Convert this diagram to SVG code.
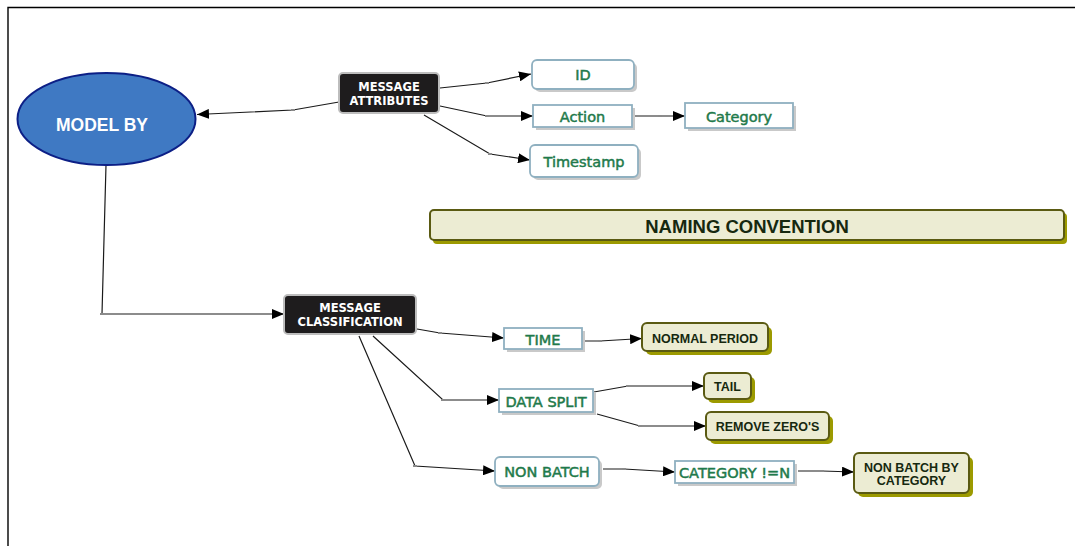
<svg xmlns="http://www.w3.org/2000/svg" width="1075" height="547" viewBox="0 0 1075 547">
  <defs>
    <marker id="arrow" viewBox="0 0 12 10" refX="12" refY="5" markerWidth="12" markerHeight="10" markerUnits="userSpaceOnUse" orient="auto">
      <path d="M0,0 L12,5 L0,10 Z" fill="#000"/>
    </marker>
    <style>
      .frame { fill: none; stroke: #000; stroke-width: 1.4; }
      .edge { fill: none; stroke: #1a1a1a; stroke-width: 1.2; }
      .tick { fill: #8a8a8a; }
      .dark { fill: #1e1c1d; stroke: #bdbdbd; stroke-width: 2; }
      .darkText { fill: #fff; font-family: "DejaVu Sans", Verdana, sans-serif; font-weight: bold; font-size: 11.5px; text-anchor: middle; }
      .leaf { fill: #fff; stroke: #8fb0c0; stroke-width: 1.8; }
      .leafShadow { fill: #c9c9c9; }
      .leafText { fill: #1f7a4b; stroke: #1f7a4b; stroke-width: 0.5; font-family: "DejaVu Sans", Verdana, sans-serif; font-size: 14.5px; text-anchor: middle; }
      .olive { fill: #ececd3; stroke: #5a5a12; stroke-width: 2; }
      .oliveShadow { fill: #9c9a00; }
      .oliveText { fill: #16280f; font-family: "Liberation Sans", Arial, sans-serif; font-weight: bold; font-size: 12.5px; text-anchor: middle; }
      .banner { font-size: 18.5px; }
    </style>
  </defs>

  <rect width="1075" height="547" fill="#fff"/>
  <!-- page frame: top and left edges only -->
  <path class="frame" d="M8,546 L8,7.5 L1075,7.5"/>

  <!-- connectors -->
  <g id="connectors">
    <path class="edge" d="M339,102 L293,110 L197,114.5" marker-end="url(#arrow)"/>
    <path class="edge" d="M440,88 L487,83 L531,74" marker-end="url(#arrow)"/>
    <path class="edge" d="M440,106 L487,116 L533,116" marker-end="url(#arrow)"/>
    <path class="edge" d="M424,115 L490,154 L530,160" marker-end="url(#arrow)"/>
    <path class="edge" d="M635,116 L660,116 L685,116" marker-end="url(#arrow)"/>
    <path class="edge" d="M106,165 L102,314 L284,314" marker-end="url(#arrow)"/>
    <path class="edge" d="M417,329 L440,333 L504,338" marker-end="url(#arrow)"/>
    <path class="edge" d="M373,336 L443,400 L499,400" marker-end="url(#arrow)"/>
    <path class="edge" d="M359,336 L415,466 L495,471" marker-end="url(#arrow)"/>
    <path class="edge" d="M585,341 L600,341 L642,338.5" marker-end="url(#arrow)"/>
    <path class="edge" d="M594,392 L628,386 L704,386" marker-end="url(#arrow)"/>
    <path class="edge" d="M597,414 L640,426 L706,426" marker-end="url(#arrow)"/>
    <path class="edge" d="M603,469 L624,469 L675,472" marker-end="url(#arrow)"/>
    <path class="edge" d="M798,471 L822,471 L854,472" marker-end="url(#arrow)"/>
    <!-- small empty label marks at bend points -->
    <rect class="tick" x="291" y="109" width="4" height="2"/>
    <rect class="tick" x="485" y="82" width="4" height="2"/>
    <rect class="tick" x="485" y="115" width="4" height="2"/>
    <rect class="tick" x="488" y="153" width="4" height="2"/>
    <rect class="tick" x="658" y="115" width="4" height="2"/>
    <rect class="tick" x="100" y="313" width="4" height="2"/>
    <rect class="tick" x="438" y="332" width="4" height="2"/>
    <rect class="tick" x="441" y="399" width="4" height="2"/>
    <rect class="tick" x="413" y="465" width="4" height="2"/>
    <rect class="tick" x="598" y="340" width="4" height="2"/>
    <rect class="tick" x="626" y="385" width="3" height="2"/>
    <rect class="tick" x="638" y="425" width="4" height="2"/>
    <rect class="tick" x="622" y="468" width="4" height="2"/>
    <rect class="tick" x="820" y="470" width="4" height="2"/>
  </g>

  <!-- root -->
  <g id="model-by">
    <ellipse cx="106.5" cy="119" rx="89" ry="46" fill="#3f79c3" stroke="#0c1f86" stroke-width="2"/>
    <text x="102" y="131" fill="#fff" font-family="Liberation Sans, Arial, sans-serif" font-weight="bold" font-size="17.5" text-anchor="middle">MODEL BY</text>
  </g>

  <!-- first-level groups -->
  <g id="message-attributes">
    <rect class="dark" x="339" y="73" width="100" height="40" rx="4"/>
    <text class="darkText" x="389" y="91">MESSAGE</text>
    <text class="darkText" x="389" y="104.5">ATTRIBUTES</text>
  </g>
  <g id="message-classification">
    <rect class="dark" x="284" y="295" width="132" height="39" rx="4"/>
    <text class="darkText" x="350" y="312">MESSAGE</text>
    <text class="darkText" x="350" y="326">CLASSIFICATION</text>
  </g>

  <!-- attribute leaves -->
  <g id="id">
    <rect class="leafShadow" x="535" y="63" width="102" height="29" rx="5"/>
    <rect class="leaf" x="532" y="60" width="102" height="29" rx="5"/>
    <text class="leafText" x="583" y="80">ID</text>
  </g>
  <g id="action">
    <rect class="leafShadow" x="536" y="108" width="99" height="22"/>
    <rect class="leaf" x="533" y="105" width="99" height="22"/>
    <text class="leafText" x="582.5" y="122">Action</text>
  </g>
  <g id="category">
    <rect class="leafShadow" x="688" y="106" width="108" height="25"/>
    <rect class="leaf" x="685" y="103" width="108" height="25"/>
    <text class="leafText" x="739" y="121.5">Category</text>
  </g>
  <g id="timestamp">
    <rect class="leafShadow" x="533" y="148" width="108" height="32" rx="5"/>
    <rect class="leaf" x="530" y="145" width="108" height="32" rx="5"/>
    <text class="leafText" x="584" y="167">Timestamp</text>
  </g>

  <!-- banner -->
  <g id="naming-convention">
    <rect class="oliveShadow" x="433" y="213" width="634" height="31" rx="4"/>
    <rect class="olive" x="430" y="210" width="634" height="30" rx="4"/>
    <text class="oliveText banner" x="747" y="233">NAMING CONVENTION</text>
  </g>

  <!-- classification leaves -->
  <g id="time">
    <rect class="leafShadow" x="507" y="331" width="78" height="21"/>
    <rect class="leaf" x="504" y="328" width="78" height="21"/>
    <text class="leafText" x="543" y="344.5">TIME</text>
  </g>
  <g id="normal-period">
    <rect class="oliveShadow" x="646" y="327" width="126" height="28" rx="5"/>
    <rect class="olive" x="642" y="323" width="126" height="28" rx="5"/>
    <text class="oliveText" x="705" y="343">NORMAL PERIOD</text>
  </g>
  <g id="data-split">
    <rect class="leafShadow" x="502" y="392" width="94" height="23"/>
    <rect class="leaf" x="499" y="389" width="94" height="23"/>
    <text class="leafText" x="546" y="406.5">DATA SPLIT</text>
  </g>
  <g id="tail">
    <rect class="oliveShadow" x="708" y="377" width="47" height="26" rx="5"/>
    <rect class="olive" x="704" y="373" width="47" height="26" rx="5"/>
    <text class="oliveText" x="727.5" y="391">TAIL</text>
  </g>
  <g id="remove-zeros">
    <rect class="oliveShadow" x="710" y="416" width="123" height="28" rx="5"/>
    <rect class="olive" x="706" y="412" width="123" height="28" rx="5"/>
    <text class="oliveText" x="767.5" y="431">REMOVE ZERO'S</text>
  </g>
  <g id="non-batch">
    <rect class="leafShadow" x="498" y="460" width="104" height="29" rx="5"/>
    <rect class="leaf" x="495" y="457" width="104" height="29" rx="5"/>
    <text class="leafText" x="547" y="477">NON BATCH</text>
  </g>
  <g id="category-not-n">
    <rect class="leafShadow" x="678" y="464" width="119" height="22"/>
    <rect class="leaf" x="675" y="461" width="119" height="22"/>
    <text class="leafText" x="734.5" y="477.5">CATEGORY !=N</text>
  </g>
  <g id="non-batch-by-category">
    <rect class="oliveShadow" x="858" y="457" width="115" height="40" rx="5"/>
    <rect class="olive" x="854" y="453" width="115" height="40" rx="5"/>
    <text class="oliveText" x="911.5" y="472">NON BATCH BY</text>
    <text class="oliveText" x="911.5" y="484.5">CATEGORY</text>
  </g>
</svg>
